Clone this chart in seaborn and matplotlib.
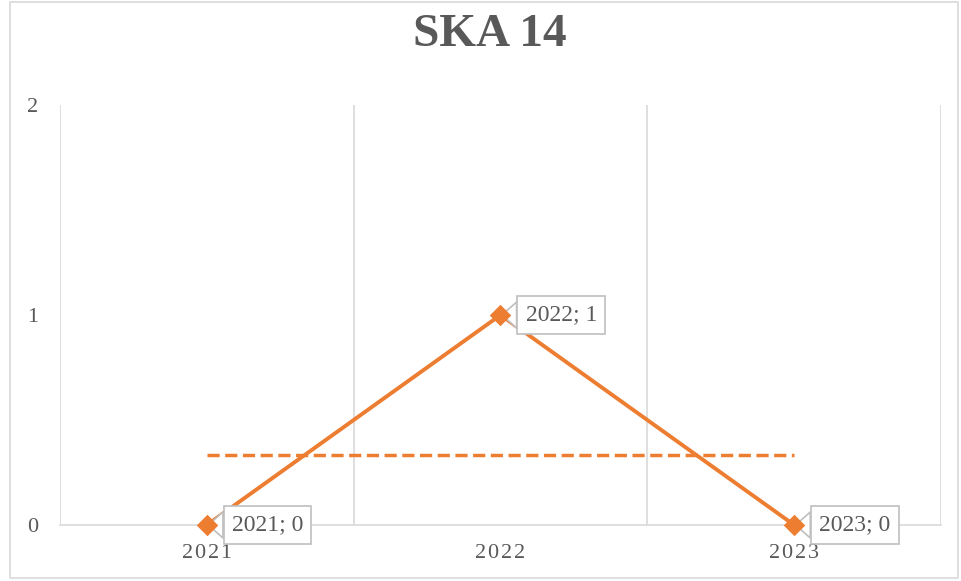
import numpy as np
import pandas as pd
import matplotlib
matplotlib.use("Agg")
import matplotlib.pyplot as plt
from matplotlib.patches import Rectangle
import seaborn as sns

sns.set_theme(style="white")
plt.rcParams['font.family'] = ['Liberation Serif', 'DejaVu Serif']

# data
years = ["2021", "2022", "2023"]
values = [0, 1, 0]
title = "SKA 14"

orange = "#ED7D31"
grey_txt = "#595959"
grid_col = "#d9d9d9"

pos = np.arange(len(years)) + 0.5
df = pd.DataFrame({"pos": pos, "year": years, "value": values})
df["mean"] = np.mean(values)

fig = plt.figure(figsize=(9.62, 5.81), dpi=100)
ax = fig.add_axes([60/962, 56/581, 881/962, 420/581])

sns.lineplot(data=df, x="pos", y="mean", ax=ax, color=orange, lw=2.5,
             dashes=False, zorder=3).lines[-1].set_dashes((3.5, 1.6))
sns.lineplot(data=df, x="pos", y="value", ax=ax, color=orange, lw=2.8, zorder=4)
# markers on top of the label pointers
sns.scatterplot(data=df, x="pos", y="value", ax=ax, color=orange, marker="D",
                s=120, linewidth=0, zorder=7, clip_on=False)

for x, y, yr in zip(df["pos"], df["value"], df["year"]):
    ax.annotate(f"{yr}; {y}", xy=(x, y), xytext=(18, 0), textcoords="offset points",
                ha="left", va="center", fontsize=17, color=grey_txt, zorder=6,
                bbox=dict(boxstyle="square,pad=0.35", fc="white", ec="#bfbfbf", lw=1.2),
                arrowprops=dict(arrowstyle="wedge,tail_width=1.1", fc="white",
                                ec="#bfbfbf", lw=1.2, shrinkA=0, shrinkB=1))

ax.set_xlim(0, len(years))
ax.set_ylim(0, 2)
ax.set_xticks(pos)
ax.set_xticklabels(["\u200a".join(y) for y in years])
ax.set_xticks(np.arange(len(years) + 1), minor=True)
ax.set_yticks([0, 1, 2])
ax.tick_params(axis="x", which="both", length=0, pad=14, labelsize=16, labelcolor=grey_txt)
ax.tick_params(axis="y", length=0, pad=16, labelsize=16, labelcolor=grey_txt)
ax.grid(False)
ax.grid(True, axis="x", which="minor", color=grid_col, lw=1.2)
for s in ["top", "left", "right"]:
    ax.spines[s].set_visible(False)
ax.spines["bottom"].set_color(grid_col)
ax.spines["bottom"].set_linewidth(1.2)
ax.set_xlabel("")
ax.set_ylabel("")

fig.text(490/962, 1 - 35/581, title, ha="center", va="center", fontsize=34,
         fontweight="bold", color=grey_txt)
fig.patches.append(Rectangle((10/962, 3/581), 948/962, 576/581, transform=fig.transFigure,
                             fill=False, ec=grid_col, lw=1.2))

fig.savefig("out.png", dpi=100)
